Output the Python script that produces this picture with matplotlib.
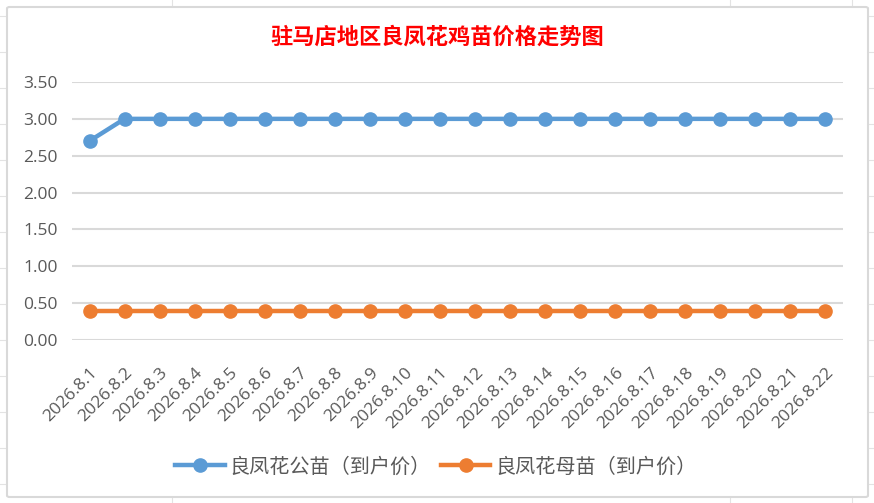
import matplotlib
matplotlib.use("Agg")
import matplotlib.pyplot as plt
from matplotlib.patches import FancyBboxPatch
from matplotlib.lines import Line2D

plt.rcParams['font.family'] = ['Noto Sans CJK SC', 'DejaVu Sans']

title = "驻马店地区良凤花鸡苗价格走势图"
dates = [f"2026.8.{d}" for d in range(1, 23)]
male_name = "良凤花公苗（到户价）"
female_name = "良凤花母苗（到户价）"
male = [2.70] + [3.00] * 21
female = [0.40] * 22
yticks = [0.0, 0.5, 1.0, 1.5, 2.0, 2.5, 3.0, 3.5]

W, H = 874, 503
fig = plt.figure(figsize=(W / 100, H / 100), dpi=100)
fig.patch.set_facecolor("white")

# spreadsheet grid behind the chart
grid_c = "#E3E3E3"
for x in [172, 730, 852]:
    fig.add_artist(Line2D([x / W, x / W], [0, 1], color=grid_c, lw=0.8, zorder=0))
for y in [16, 52, 88, 124, 160, 196, 232, 268, 304, 340, 376, 412, 448, 484]:
    fig.add_artist(Line2D([0, 1], [1 - y / H, 1 - y / H], color=grid_c, lw=0.8, zorder=0))

# chart area
fig.add_artist(FancyBboxPatch((7 / W, 1 - 497 / H), (868 - 7) / W, (497 - 7) / H,
                              boxstyle="round,pad=0,rounding_size=0.003",
                              facecolor="white", edgecolor="#D9D9D9", lw=1.5,
                              transform=fig.transFigure, zorder=1))

ax = fig.add_axes([72 / W, 1 - 340 / H, (843 - 72) / W, (340 - 82) / H], zorder=2)
ax.set_facecolor("none")
x = list(range(len(dates)))
ax.plot(x, male, color="#5B9BD5", lw=3.2, marker="o", ms=9.5, label=male_name, zorder=3)
ax.plot(x, female, color="#ED7D31", lw=3.2, marker="o", ms=9.5, label=female_name, zorder=3)

ax.set_xlim(-0.5, len(dates) - 0.5)
ax.set_ylim(0, 3.5)
ax.set_yticks(yticks)
ax.set_yticklabels([f"{v:.2f}" for v in yticks], fontsize=12.5, color="#595959",
                   family=['Open Sans', 'DejaVu Sans'])
ax.set_xticks(x)
ax.set_xticklabels(dates, rotation=45, ha="right", rotation_mode="anchor",
                   fontsize=12.5, color="#595959", family=['Open Sans', 'DejaVu Sans'])
ax.tick_params(axis="y", length=0, pad=10)
ax.tick_params(axis="x", length=0, pad=18)
ax.grid(axis="y", color="#D9D9D9", lw=1.5)
ax.set_axisbelow(True)
for s in ax.spines.values():
    s.set_visible(False)

fig.text(437 / W, 1 - 37 / H, title, color="#FF0000", fontsize=16, fontweight="bold",
         ha="center", va="center", zorder=3)

leg = fig.legend(loc="center", bbox_to_anchor=(436 / W, 1 - 467 / H), ncol=2,
                 frameon=False, fontsize=14.5, handlelength=2.45, columnspacing=0.5,
                 handletextpad=0.25)
for t in leg.get_texts():
    t.set_color("#595959")

fig.savefig("out.png", dpi=100)
